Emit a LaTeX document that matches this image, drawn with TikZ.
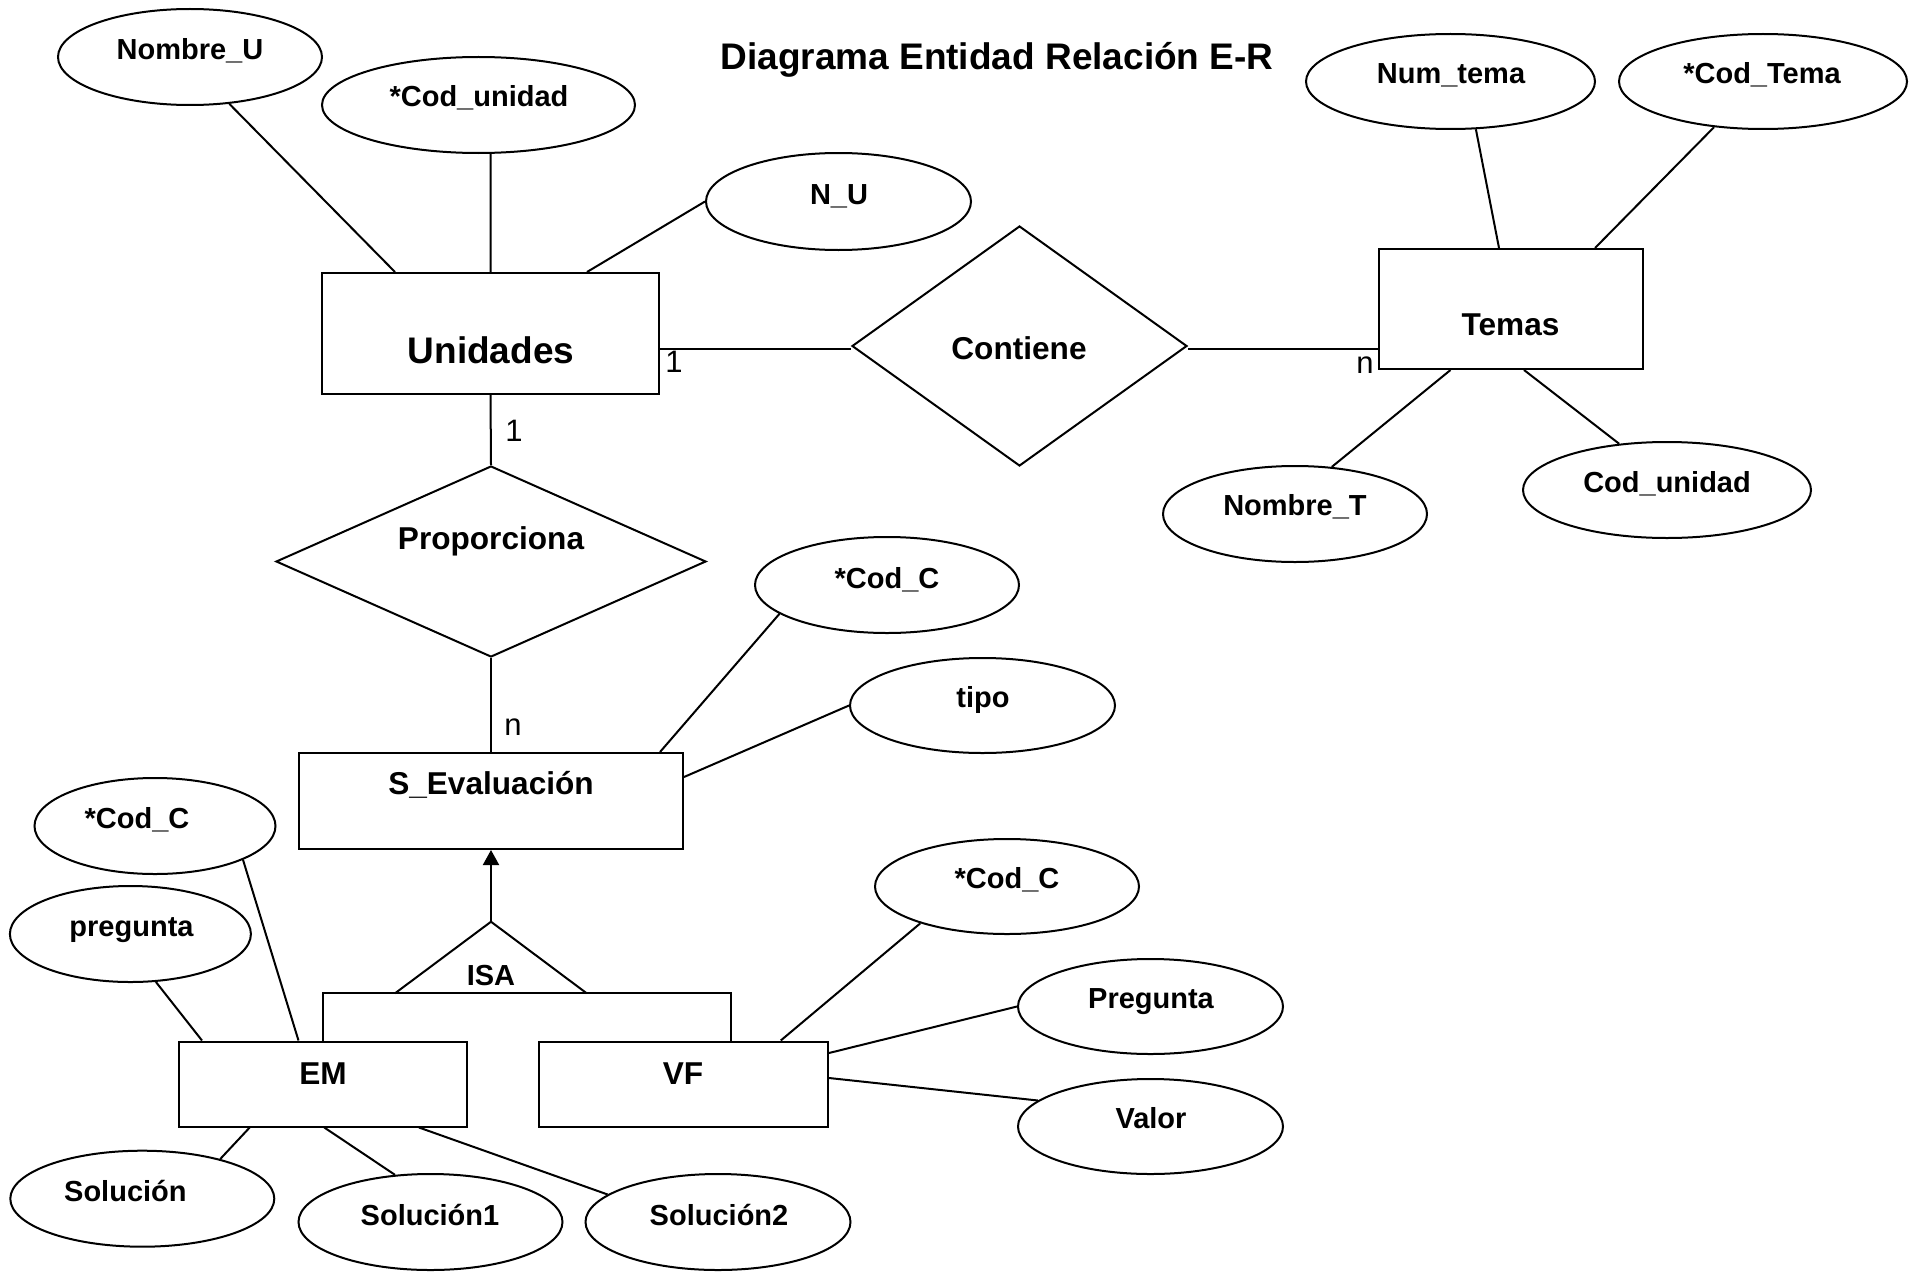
\documentclass[tikz,border=0pt]{standalone}
\usepackage{fontspec}
\setmainfont{Liberation Sans}
\usetikzlibrary{shapes.geometric,arrows.meta}
\begin{document}
\begin{tikzpicture}[x=1pt,y=-1pt,
  line width=2pt,
  attr/.style={ellipse,draw,inner sep=0pt},
  ent/.style={rectangle,draw,inner sep=0pt},
  rel/.style={diamond,draw,inner sep=0pt},
  lblA/.style={anchor=base,inner sep=0pt,font=\fontsize{29}{34}\selectfont\bfseries},
  lblR/.style={anchor=base,inner sep=0pt,font=\fontsize{31.6}{38}\selectfont\bfseries},
  lblBig/.style={anchor=base,inner sep=0pt,font=\fontsize{37}{44}\selectfont\bfseries},
  card/.style={anchor=base,inner sep=0pt,font=\fontsize{31}{37}\selectfont}
]
\fill[white] (0,0) rectangle (1921,1268);

% attributes
\node[attr,minimum width=264pt,minimum height=96pt] (aNombreU) at (190,57) {};
\node[attr,minimum width=313pt,minimum height=96pt] (aCodUnidad) at (478.5,105) {};
\node[attr,minimum width=265pt,minimum height=97pt] (aNU) at (838.5,201.5) {};
\node[attr,minimum width=289pt,minimum height=95pt] (aNumTema) at (1450.5,81.5) {};
\node[attr,minimum width=288pt,minimum height=95pt] (aCodTema) at (1763,81.5) {};
\node[attr,minimum width=264pt,minimum height=96pt] (aNombreT) at (1295,514) {};
\node[attr,minimum width=288pt,minimum height=96pt] (aCodUnidadT) at (1667,490) {};
\node[attr,minimum width=264pt,minimum height=96pt] (aCodC) at (887,585) {};
\node[attr,minimum width=265pt,minimum height=95pt] (aTipo) at (982.5,705.5) {};
\node[attr,minimum width=241pt,minimum height=96pt] (aCodCEM) at (155,826) {};
\node[attr,minimum width=241pt,minimum height=96pt] (aPreguntaEM) at (130.4,934) {};
\node[attr,minimum width=264pt,minimum height=95pt] (aCodCVF) at (1007,886.5) {};
\node[attr,minimum width=265pt,minimum height=95pt] (aPreguntaVF) at (1150.5,1006.5) {};
\node[attr,minimum width=265pt,minimum height=95pt] (aValor) at (1150.5,1126.5) {};
\node[attr,minimum width=264pt,minimum height=96pt] (aSolucion) at (142.3,1198.7) {};
\node[attr,minimum width=264pt,minimum height=96pt] (aSolucion1) at (430.5,1222) {};
\node[attr,minimum width=265pt,minimum height=96pt] (aSolucion2) at (718,1222) {};

% entities
\node[ent,minimum width=337pt,minimum height=121pt] (eUnidades) at (490.5,333.5) {};
\node[ent,minimum width=264pt,minimum height=120pt] (eTemas) at (1511,309) {};
\node[ent,minimum width=384pt,minimum height=96pt] (eSEval) at (491,801) {};
\node[ent,minimum width=288pt,minimum height=85pt] (eEM) at (323,1084) {};
\node[ent,minimum width=289.5pt,minimum height=85pt] (eVF) at (683.25,1084) {};

% relationships
\node[rel,aspect=1.396,minimum width=335pt,minimum height=240pt] (rContiene) at (1019.5,346) {};
\node[rel,aspect=2.251,minimum width=430pt,minimum height=191pt] (rProporciona) at (491,561.5) {};

% ISA triangle corners
\coordinate (isaTop) at (491,921.7);
\coordinate (isaL) at (395,993.3);
\coordinate (isaR) at (586.7,993.3);

% connectors
\draw (aNombreU.-50) -- ([xshift=-95.5pt]eUnidades.north);
\draw (aCodUnidad.-76) -- (eUnidades.north);
\draw (aNU.west) -- ([xshift=96.5pt]eUnidades.north);
\draw ([yshift=-15.5pt]eUnidades.east) -- ([yshift=-3pt]rContiene.west);
\draw ([yshift=-3pt]rContiene.east) -- ([yshift=-40pt]eTemas.west);
\draw (aNumTema.-62) -- ([xshift=-12pt]eTemas.north);
\draw (aCodTema.-137) -- ([xshift=84pt]eTemas.north);
\draw ([xshift=-60.5pt]eTemas.south) -- (aNombreT.52);
\draw ([xshift=13pt]eTemas.south) -- (aCodUnidadT.136);
\draw (eUnidades.south) -- (rProporciona.north);
\draw (rProporciona.south) -- (eSEval.north);
\draw (aCodC.-165) -- ([xshift=169pt]eSEval.north);
\draw (aTipo.west) -- ([yshift=24pt]eSEval.east);
\draw[-{Triangle[length=15pt,width=16pt]}] (isaTop) -- (eSEval.south);
\draw (isaL) -- (isaTop) -- (isaR);
\draw (eEM.north) |- (isaL) -- (isaR) -| ([xshift=47.75pt]eVF.north);
\draw (aCodCEM.-21) -- ([xshift=-24.5pt]eEM.north);
\draw (aPreguntaEM.-62) -- ([xshift=-121pt]eEM.north);
\draw ([xshift=-73.3pt]eEM.south) -- (aSolucion.27);
\draw ([xshift=1.3pt]eEM.south) -- (aSolucion1.127);
\draw ([xshift=96pt]eEM.south) -- (aSolucion2.166);
\draw ([xshift=97.5pt]eVF.north) -- (aCodCVF.-157);
\draw ([yshift=31pt]eVF.east) -- (aPreguntaVF.west);
\draw ([yshift=6pt]eVF.east) -- (aValor.167);

% labels
\node[lblBig] (tTitle) at (997,70) {Diagrama Entidad Relación E-R};
\node[lblA] (tNombreU) at (190,60) {Nombre\_U};
\node[lblA] (tCodUnidad) at (479,107) {*Cod\_unidad};
\node[lblA] (tNU) at (839,204) {N\_U};
\node[lblBig] (tUnidades) at (491,363) {Unidades};
\node[lblR] (tContiene) at (1019,359) {Contiene};
\node[lblA] (tNumTema) at (1451,84) {Num\_tema};
\node[lblA] (tCodTema) at (1762,84) {*Cod\_Tema};
\node[lblR] (tTemas) at (1510.5,335) {Temas};
\node[lblA] (tNombreT) at (1295,515) {Nombre\_T};
\node[lblA] (tCodUnidadT) at (1667,492) {Cod\_unidad};
\node[lblR] (tProporciona) at (491,549) {Proporciona};
\node[lblA] (tCodC) at (887,588) {*Cod\_C};
\node[lblA] (tTipo) at (983,707) {tipo};
\node[lblR] (tSEval) at (491,794) {S\_Evaluación};
\node[lblA] (tCodCEM) at (137,828) {*Cod\_C};
\node[lblA] (tPreguntaEM) at (131.5,936) {pregunta};
\node[lblA] (tCodCVF) at (1007,888) {*Cod\_C};
\node[lblA] (tPreguntaVF) at (1151,1008) {Pregunta};
\node[lblA] (tValor) at (1151,1128) {Valor};
\node[lblA] (tISA) at (491,985) {ISA};
\node[lblR] (tEM) at (323,1084) {EM};
\node[lblR] (tVF) at (683,1084) {VF};
\node[lblA] (tSolucion) at (125.4,1201) {Solución};
\node[lblA] (tSolucion1) at (430,1225) {Solución1};
\node[lblA] (tSolucion2) at (719,1225) {Solución2};

% cardinalities
\node[card] (c1a) at (674,372.5) {1};
\node[card] (cna) at (1365,373) {n};
\node[card] (c1b) at (514,441) {1};
\node[card] (cnb) at (513,735) {n};
\end{tikzpicture}
\end{document}
